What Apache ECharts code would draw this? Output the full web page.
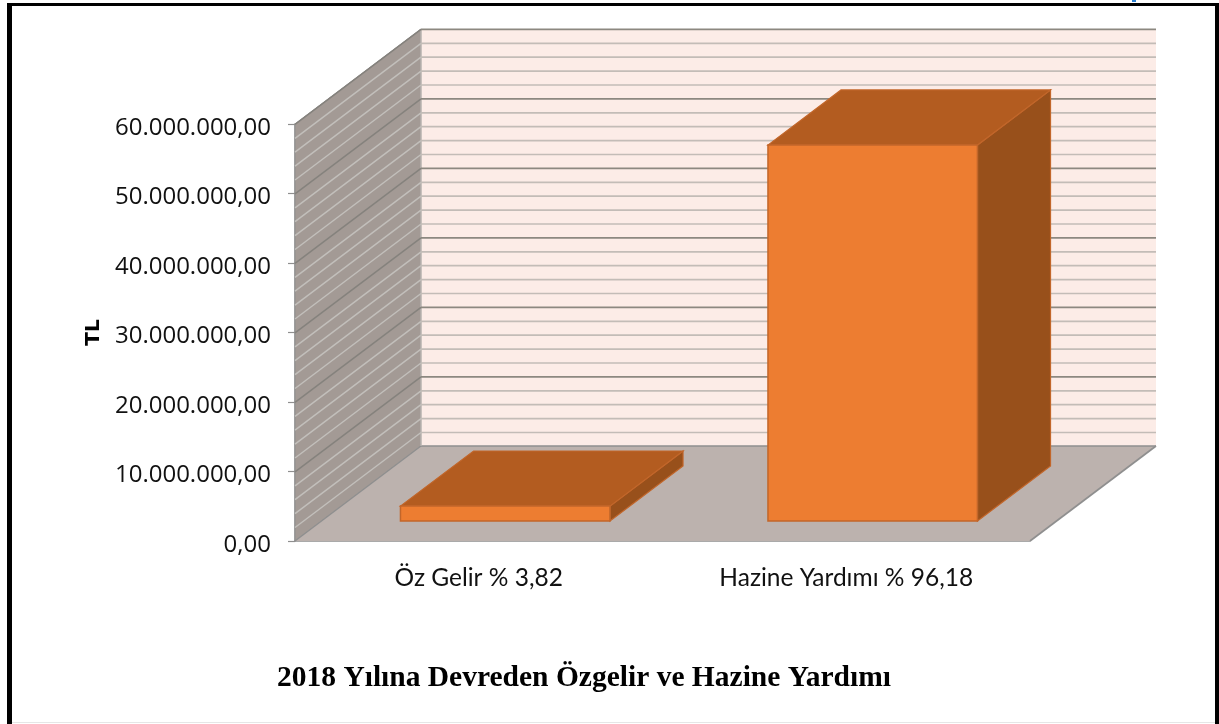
<!DOCTYPE html>
<html><head><meta charset="utf-8">
<style>html,body{margin:0;padding:0;background:#fff}#c{width:1219px;height:724px}</style>
<script src="https://cdn.jsdelivr.net/npm/echarts@6/dist/echarts.min.js"></script>
</head><body><div id="c"></div>
<script>
const categories = ['Öz Gelir % 3,82', 'Hazine Yardımı % 96,18'];
const values = [2150000, 54100000];
const yTicks = [2e6,4e6,6e6,8e6,1e7,1.2e7,1.4e7,1.6e7,1.8e7,2e7,2.2e7,2.4e7,2.6e7,2.8e7,3e7,3.2e7,3.4e7,3.6e7,3.8e7,4e7,4.2e7,4.4e7,4.6e7,4.8e7,5e7,5.2e7,5.4e7,5.6e7,5.8e7,6e7];
const yMax = 60000000, yStep = 10000000;
const titleText = '2018 Yılına Devreden Özgelir ve Hazine Yardımı';
const yName = 'TL';

const DX = 126, DY = -95;
const barStart = 0.21, barDepth = 0.58, barFrac = 0.57;
const fmt = v => {
  const s = String(Math.round(v)).replace(/\B(?=(\d{3})+(?!\d))/g, '.');
  return s + ',00';
};
const poly = (pts, fill, stroke, lw) => ({type:'polygon', shape:{points:pts},
  style:{fill, stroke: stroke||'none', lineWidth: lw||0}});
const line = (a,b,stroke,lw) => ({type:'line', shape:{x1:a[0],y1:a[1],x2:b[0],y2:b[1]},
  style:{stroke, lineWidth:lw, fill:'none'}});

function plotBox(api){
  const band = api.size([1,0])[0];
  const c0 = api.coord([0,0]), c1 = api.coord([1,yMax]);
  return {l:c0[0]-band/2, r:c1[0]+band/2, b:c0[1], t:c1[1], band};
}
function wallsItem(p, api){
  const {l,r,b,t} = plotBox(api);
  return {type:'group', children:[
    poly([[l+DX,t+DY],[r+DX,t+DY],[r+DX,b+DY],[l+DX,b+DY]],'#fcece7'),
    poly([[l,t],[l+DX,t+DY],[l+DX,b+DY],[l,b]],'#a39a95','#8f8f8f',1),
    poly([[l,b],[l+DX,b+DY],[r+DX,b+DY],[r,b]],'#bcb2ae'),
    line([l+DX,b+DY],[r+DX,b+DY],'#8f8f8f',1.5),
    line([r,b],[r+DX,b+DY],'#8f8f8f',1.7),
    line([l,b],[l+DX,b+DY],'#8f8f8f',1.2),
    line([l+DX,t+DY],[l+DX,b+DY],'#c9c4c0',1)
  ]};
}
function gridItem(p, api){
  const {l,r} = plotBox(api);
  const v = api.value(0);
  const y = api.coord([0,v])[1] + 0.4;
  const major = v % yStep === 0;
  return {type:'group', children:[
    line([l,y],[l+DX,y+DY], major?'#85827d':'#c2bfbb', 1.5),
    line([l+DX,y+DY],[r+DX,y+DY], major?'#8c8880':'#c3bcb7', 1.7)
  ]};
}
function barItem(p, api){
  const i = api.value(0), v = api.value(1);
  const band = api.size([1,0])[0];
  const cx = api.coord([i,0])[0], y0 = api.coord([i,0])[1], y1 = api.coord([i,v])[1];
  const w = band*barFrac;
  const ox = DX*barStart, oy = DY*barStart;
  const dx = DX*barDepth, dy = DY*barDepth;
  const xl = cx-w/2+ox, xr = cx+w/2+ox, yb = y0+oy, yt = y1+oy;
  return {type:'group', children:[
    poly([[xr,yb],[xr+dx,yb+dy],[xr+dx,yt+dy],[xr,yt]],'#98501b','#c2662a',1.2),
    poly([[xl,yt],[xr,yt],[xr+dx,yt+dy],[xl+dx,yt+dy]],'#b35c20','#c2662a',1.2),
    poly([[xl,yb],[xr,yb],[xr,yt],[xl,yt]],'#ed7d31','#c2662a',1.5)
  ]};
}

const chart = echarts.init(document.getElementById('c'), null, {renderer:'canvas'});
chart.setOption({
  animation:false,
  backgroundColor:'#ffffff',
  title:{text:titleText, left:272, top:658,
    textStyle:{fontFamily:'Liberation Serif', fontWeight:'bold', fontSize:29.5, color:'#000'}},
  grid:{left:295, right:189, top:124, bottom:183, containLabel:false},
  xAxis:{type:'category', data:categories,
    axisLine:{show:true, lineStyle:{color:'#8f8f8f', width:1.5}},
    axisTick:{show:false},
    axisLabel:{margin:25, fontFamily:'Lato', fontSize:24.5, color:'#111', interval:0}},
  yAxis:{type:'value', min:0, max:yMax, interval:yStep,
    name:yName, nameLocation:'middle', nameGap:191, nameRotate:90,
    nameTextStyle:{fontFamily:'DejaVu Sans', fontWeight:'bold', fontSize:20, color:'#000'},
    splitLine:{show:false},
    axisLine:{show:true, lineStyle:{color:'#8f8f8f', width:1.5}},
    axisTick:{show:true, length:7, lineStyle:{color:'#8f8f8f', width:1.2}},
    axisLabel:{margin:24, formatter:fmt, fontFamily:'Open Sans', fontSize:24, color:'#111', verticalAlign:'top', lineHeight:8}},
  series:[
    {type:'custom', name:'walls', coordinateSystem:'cartesian2d', clip:false, z:1, silent:true,
     encode:{x:0,y:1}, data:[[0,0]], renderItem:wallsItem},
    {type:'custom', name:'gridlines', coordinateSystem:'cartesian2d', clip:false, z:2, silent:true,
     encode:{y:0}, data:yTicks.map(v=>[v]), renderItem:gridItem},
    {type:'custom', name:'bars', coordinateSystem:'cartesian2d', clip:false, z:3, silent:true,
     encode:{x:0,y:1}, data:values.map((v,i)=>[i,v]), renderItem:barItem}
  ],
  graphic:[
    {type:'rect', z:50, shape:{x:7,y:3,width:5,height:721}, style:{fill:'#000'}},
    {type:'rect', z:50, shape:{x:7,y:3,width:1212,height:3}, style:{fill:'#000'}},
    {type:'rect', z:50, shape:{x:1215,y:3,width:4,height:721}, style:{fill:'#000'}},
    {type:'rect', z:50, shape:{x:12,y:722,width:1203,height:1}, style:{fill:'#e6e6e6'}},
    {type:'rect', z:50, shape:{x:1132,y:0,width:4,height:2}, style:{fill:'#2a7fd0'}}
  ]
});
</script></body></html>
